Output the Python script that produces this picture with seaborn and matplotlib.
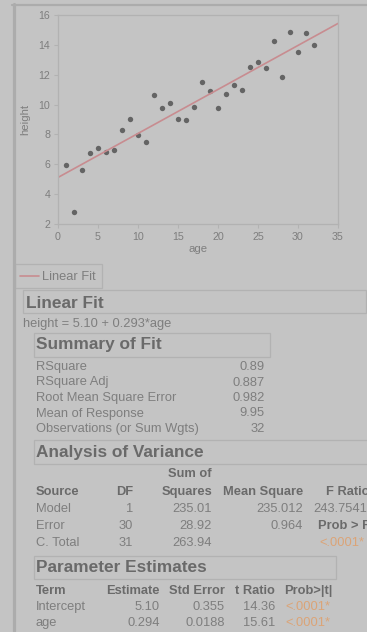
import numpy as np
import pandas as pd
import matplotlib.pyplot as plt
import seaborn as sns
from matplotlib.patches import Rectangle
from matplotlib.lines import Line2D

# data
age = list(range(1, 33))
height = [5.93, 2.80, 5.62, 6.76, 7.07, 6.80, 6.98, 8.27, 9.06, 7.96, 7.49, 10.64,
          9.79, 10.10, 9.03, 8.94, 9.86, 11.49, 10.93, 9.79, 10.68, 11.29, 11.00, 12.52,
          12.87, 12.45, 14.26, 11.87, 14.86, 13.54, 14.77, 13.99]

x_ticks = [0, 5, 10, 15, 20, 25, 30, 35]
y_ticks = [2, 4, 6, 8, 10, 12, 14, 16]

equation = "height = 5.10 + 0.293*age"

summary_labels = ["RSquare", "RSquare Adj", "Root Mean Square Error",
                  "Mean of Response", "Observations (or Sum Wgts)"]
summary_values = ["0.89", "0.887", "0.982", "9.95", "32"]

anova_source = ["Model", "Error", "C. Total"]
anova_df = ["1", "30", "31"]
anova_ss = ["235.01", "28.92", "263.94"]
anova_ms = ["235.012", "0.964", ""]
anova_f = ["243.7541", "Prob > F", "<.0001*"]

param_terms = ["Intercept", "age"]
param_est = ["5.10", "0.294"]
param_se = ["0.355", "0.0188"]
param_t = ["14.36", "15.61"]
param_p = ["<.0001*", "<.0001*"]

df = pd.DataFrame({"age": age, "height": height})

bg = "#c4c4c4"
txt = "#7e7e7e"
bold_txt = "#6a6a6a"
frame = "#b2b2b2"
orange = "#dba477"
fit_red = "#c88c90"
pt_col = "#646464"

sns.set_style("white")
plt.rcParams["font.family"] = ["Liberation Sans", "DejaVu Sans"]

W, H = 367, 632
fig = plt.figure(figsize=(W / 100, H / 100), dpi=100, facecolor=bg)

NORMAL = 9.3
HEAD = 12.4


def fx(x):
    return x / W


def fy(y):
    return 1 - y / H


def text(x, y, s, size=NORMAL, color=txt, weight="normal", ha="left"):
    fig.text(fx(x), fy(y), s, fontsize=size, color=color, fontweight=weight,
             ha=ha, va="baseline")


def box(x0, y0, x1, y1, lw=0.9):
    fig.add_artist(Rectangle((fx(x0), fy(y1)), (x1 - x0) / W, (y1 - y0) / H,
                             transform=fig.transFigure, fill=False,
                             edgecolor=frame, lw=lw))


# outer report frame
fig.add_artist(Line2D([fx(13.5), fx(13.5)], [fy(4), fy(640)], transform=fig.transFigure,
                      color="#acacac", lw=2.3))
fig.add_artist(Line2D([fx(12), fx(370)], [fy(5), fy(5)], transform=fig.transFigure,
                      color="#acacac", lw=1.6))

# scatter + fit
ax = fig.add_axes([fx(58), fy(224), 280 / W, 209 / H])
ax.set_facecolor(bg)
ax.set_xlim(0, 35)
ax.set_ylim(2, 16)
sns.regplot(data=df, x="age", y="height", ci=None, truncate=False, ax=ax,
            scatter_kws=dict(s=15, color=pt_col, linewidths=0, alpha=1),
            line_kws=dict(color=fit_red, lw=1.2))
ax.set_xlim(0, 35)
ax.set_ylim(2, 16)
ax.set_xticks(x_ticks)
ax.set_yticks(y_ticks)
for sp in ax.spines.values():
    sp.set_color(frame)
    sp.set_linewidth(0.9)
ax.tick_params(direction="out", length=3, width=0.8, color=frame, labelcolor=txt,
               labelsize=7.7, pad=2.5, left=True, bottom=True)
ax.set_xlabel("age", fontsize=8.2, color=txt, labelpad=1.5)
ax.set_ylabel("height", fontsize=8.2, color=txt, labelpad=6)

# legend
box(15, 264, 102, 288)
fig.add_artist(Line2D([fx(20), fx(39)], [fy(276), fy(276)], transform=fig.transFigure,
                      color=fit_red, lw=1.2))
text(41.5, 280.5, "Linear Fit")

# Linear Fit section
box(23, 290, 366, 313)
text(26, 307.5, "Linear Fit", size=HEAD, color=bold_txt, weight="bold")
text(23, 326.5, equation)

# Summary of Fit
box(34, 333, 270, 357)
text(36, 349.3, "Summary of Fit", size=HEAD, color=bold_txt, weight="bold")
for i, (lab, val) in enumerate(zip(summary_labels, summary_values)):
    yb = 370 + i * 15.5
    text(36, yb, lab)
    text(265, yb, val, ha="right")

# Analysis of Variance
box(34, 440, 372, 464)
text(36, 457.5, "Analysis of Variance", size=HEAD, color=bold_txt, weight="bold")
text(212, 477, "Sum of", color=bold_txt, weight="bold", ha="right")
hdr = [(36, "Source", "left"), (133, "DF", "right"), (212, "Squares", "right"),
       (303, "Mean Square", "right"), (370, "F Ratio", "right")]
for x, s, ha in hdr:
    text(x, 495, s, color=bold_txt, weight="bold", ha=ha)
for i in range(3):
    yb = 512 + i * 17
    text(36, yb, anova_source[i])
    text(133, yb, anova_df[i], ha="right")
    text(212, yb, anova_ss[i], ha="right")
    text(303, yb, anova_ms[i], ha="right")
    if anova_f[i] == "Prob > F":
        text(370, yb, anova_f[i], color=bold_txt, weight="bold", ha="right")
    elif anova_f[i].startswith("<"):
        text(364, yb, anova_f[i], color=orange, ha="right")
    else:
        text(367, yb, anova_f[i], ha="right")

# Parameter Estimates
box(34, 556, 336, 579)
text(36, 572.5, "Parameter Estimates", size=HEAD, color=bold_txt, weight="bold")
hdr = [(36, "Term", "left"), (160, "Estimate", "right"), (225, "Std Error", "right"),
       (275, "t Ratio", "right"), (284, "Prob>|t|", "left")]
for x, s, ha in hdr:
    text(x, 594, s, color=bold_txt, weight="bold", ha=ha)
for i in range(2):
    yb = 610 + i * 16
    text(36, yb, param_terms[i])
    text(160, yb, param_est[i], ha="right")
    text(225, yb, param_se[i], ha="right")
    text(275, yb, param_t[i], ha="right")
    text(285, yb, param_p[i], color=orange)

fig.savefig("out.png", dpi=100, facecolor=bg)
